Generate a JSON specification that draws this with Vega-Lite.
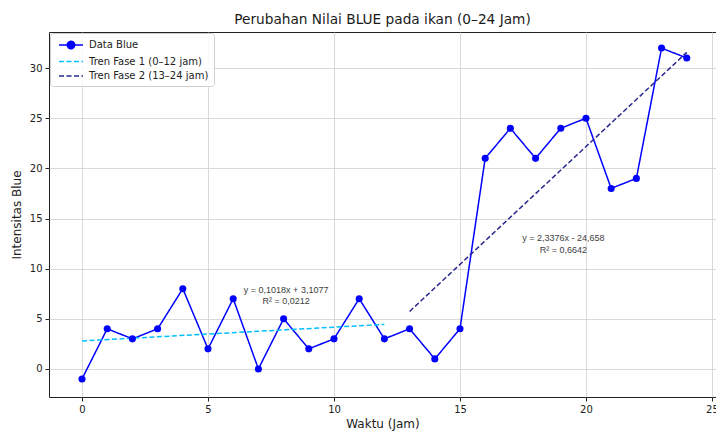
{
  "$schema": "https://vega.github.io/schema/vega-lite/v6.json",
  "width": 667,
  "height": 365,
  "autosize": "none",
  "padding": {"left": 49, "top": 32, "right": 0, "bottom": 34},
  "background": "white",
  "title": {"text": "Perubahan Nilai BLUE pada ikan (0–24 Jam)", "font": "DejaVu Sans", "fontSize": 13.7, "fontWeight": "normal", "color": "#1a1a1a", "offset": 5},
  "config": {
    "view": {"stroke": "#222", "strokeWidth": 1},
    "axis": {
      "labelFont": "DejaVu Sans", "labelFontSize": 10, "labelColor": "#222",
      "titleFont": "DejaVu Sans", "titleFontSize": 12, "titleFontWeight": "normal", "titleColor": "#222",
      "tickColor": "#222", "tickSize": 4, "labelPadding": 3, "domain": false,
      "grid": true, "gridColor": "#cfcfcf", "gridWidth": 0.8
    }
  },
  "datasets": {
    "series": [
      {"x": 0, "y": -1, "series": "Data Blue"},
      {"x": 1, "y": 4, "series": "Data Blue"},
      {"x": 2, "y": 3, "series": "Data Blue"},
      {"x": 3, "y": 4, "series": "Data Blue"},
      {"x": 4, "y": 8, "series": "Data Blue"},
      {"x": 5, "y": 2, "series": "Data Blue"},
      {"x": 6, "y": 7, "series": "Data Blue"},
      {"x": 7, "y": 0, "series": "Data Blue"},
      {"x": 8, "y": 5, "series": "Data Blue"},
      {"x": 9, "y": 2, "series": "Data Blue"},
      {"x": 10, "y": 3, "series": "Data Blue"},
      {"x": 11, "y": 7, "series": "Data Blue"},
      {"x": 12, "y": 3, "series": "Data Blue"},
      {"x": 13, "y": 4, "series": "Data Blue"},
      {"x": 14, "y": 1, "series": "Data Blue"},
      {"x": 15, "y": 4, "series": "Data Blue"},
      {"x": 16, "y": 21, "series": "Data Blue"},
      {"x": 17, "y": 24, "series": "Data Blue"},
      {"x": 18, "y": 21, "series": "Data Blue"},
      {"x": 19, "y": 24, "series": "Data Blue"},
      {"x": 20, "y": 25, "series": "Data Blue"},
      {"x": 21, "y": 18, "series": "Data Blue"},
      {"x": 22, "y": 19, "series": "Data Blue"},
      {"x": 23, "y": 32, "series": "Data Blue"},
      {"x": 24, "y": 31, "series": "Data Blue"},
      {"x": 0, "y": 2.79, "series": "Tren Fase 1 (0–12 jam)"},
      {"x": 12, "y": 4.44, "series": "Tren Fase 1 (0–12 jam)"},
      {"x": 13, "y": 5.73, "series": "Tren Fase 2 (13–24 jam)"},
      {"x": 24, "y": 31.57, "series": "Tren Fase 2 (13–24 jam)"}
    ],
    "notes": [
      {"x": 8.1, "y": 7.88, "label": "y = 0,1018x + 3,1077"},
      {"x": 8.1, "y": 6.8, "label": "R² = 0,0212"},
      {"x": 19.1, "y": 13.06, "label": "y = 2,3376x - 24,658"},
      {"x": 19.1, "y": 11.86, "label": "R² = 0,6642"}
    ]
  },
  "layer": [
    {
      "data": {"name": "series"},
      "mark": {"type": "line", "strokeWidth": 1.5, "clip": true},
      "encoding": {
        "x": {"field": "x", "type": "quantitative", "scale": {"domain": [-1.31, 25.16], "nice": false, "zero": false}, "axis": {"values": [0, 5, 10, 15, 20, 25], "title": "Waktu (Jam)", "titlePadding": 4}},
        "y": {"field": "y", "type": "quantitative", "scale": {"domain": [-2.8, 33.6], "nice": false, "zero": false}, "axis": {"values": [0, 5, 10, 15, 20, 25, 30], "title": "Intensitas Blue", "titlePadding": 6}},
        "color": {
          "field": "series", "type": "nominal",
          "scale": {"domain": ["Data Blue", "Tren Fase 1 (0–12 jam)", "Tren Fase 2 (13–24 jam)"], "range": ["#0000ff", "#00bfff", "#28288e"]},
          "legend": {
            "title": null, "orient": "none", "legendX": 1, "legendY": 1,
            "symbolType": "stroke", "symbolSize": 144, "symbolStrokeWidth": 1.5,
            "labelFont": "DejaVu Sans", "labelFontSize": 10, "labelColor": "#222", "labelOffset": 20,
            "padding": 5, "rowPadding": 2.5, "fillColor": "rgba(255,255,255,0.85)", "strokeColor": "#d0d0d0", "cornerRadius": 3,
            "encode": {"symbols": {"update": {
              "x": {"value": 16},
              "shape": {"signal": "datum.value === 'Data Blue' ? 'M-2,0L2,0M-0.62,0A0.62,0.62,0,1,0,0.62,0A0.62,0.62,0,1,0,-0.62,0Z' : 'M-2,0L2,0'"},
              "fill": {"signal": "datum.value === 'Data Blue' ? '#0000ff' : 'transparent'"}
            }}}
          }
        },
        "strokeDash": {
          "field": "series", "type": "nominal",
          "scale": {"domain": ["Data Blue", "Tren Fase 1 (0–12 jam)", "Tren Fase 2 (13–24 jam)"], "range": [[1, 0], [5, 2.5], [5, 2.5]]},
          "legend": {
            "title": null, "orient": "none", "legendX": 1, "legendY": 1,
            "symbolType": "stroke", "symbolSize": 144, "symbolStrokeWidth": 1.5,
            "labelFont": "DejaVu Sans", "labelFontSize": 10, "labelColor": "#222", "labelOffset": 20,
            "padding": 5, "rowPadding": 2.5, "fillColor": "rgba(255,255,255,0.85)", "strokeColor": "#d0d0d0", "cornerRadius": 3
          }
        }
      }
    },
    {
      "data": {"name": "series"},
      "transform": [{"filter": "datum.series === 'Data Blue'"}],
      "mark": {"type": "point", "filled": true, "size": 50, "color": "#0000ff", "opacity": 1},
      "encoding": {
        "x": {"field": "x", "type": "quantitative"},
        "y": {"field": "y", "type": "quantitative"}
      }
    },
    {
      "data": {"name": "notes"},
      "mark": {"type": "text", "font": "Liberation Sans", "fontSize": 9, "color": "#404040", "align": "center", "baseline": "middle"},
      "encoding": {
        "x": {"field": "x", "type": "quantitative"},
        "y": {"field": "y", "type": "quantitative"},
        "text": {"field": "label"}
      }
    }
  ]
}
